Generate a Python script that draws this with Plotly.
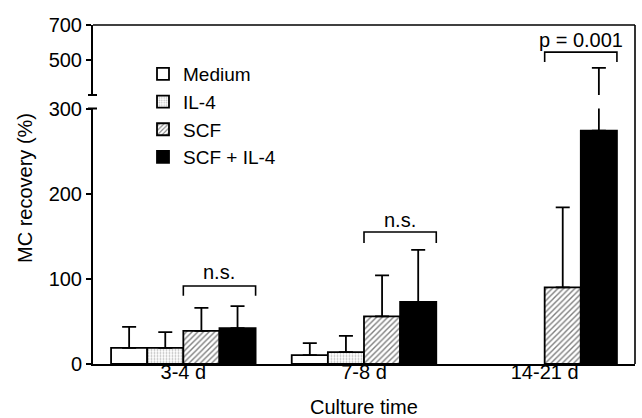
import plotly.graph_objects as go

# ---------------- data ----------------
categories = ["3-4 d", "7-8 d", "14-21 d"]
series_names = ["Medium", "IL-4", "SCF", "SCF + IL-4"]
medium = [19, 10.5, None]
medium_err = [24.5, 14, None]
il4 = [19, 14, None]
il4_err = [18.5, 19, None]
scf = [39, 56, 90]
scf_err = [27, 48, 94]
scf_il4 = [42, 73, 274]
scf_il4_err = [26, 61, 181]
lower_ticks = [0, 100, 200, 300]
upper_ticks = [500, 700]
sig_labels = ["n.s.", "n.s.", "p = 0.001"]

# ---------------- layout geometry (px) ----------------
W, H = 642, 418
L, R, T, B = 93, 7, 25, 54
PW, PH = W - L - R, H - T - B
def fy(py):  # pixel y -> paper fraction
    return (H - B - py) / PH
def fx(px):
    return (px - L) / PW

lower_top_px = 108.5
upper_bot_px = 95

FONT = "Liberation Sans, Arial, sans-serif"
FS = 20

series = [medium, il4, scf, scf_il4]
errors = [medium_err, il4_err, scf_err, scf_il4_err]
styles = [
    dict(color="white", pattern=None),
    dict(color="white", pattern=dict(shape=".", fgcolor="#777777", bgcolor="white", size=3, solidity=0.3, fillmode="overlay")),
    dict(color="white", pattern=dict(shape="/", fgcolor="black", bgcolor="white", size=4, solidity=0.35, fillmode="overlay")),
    dict(color="black", pattern=None),
]

fig = go.Figure()
for yax, show in (("y", True), ("y2", False)):
    for name, vals, err, st in zip(series_names, series, errors, styles):
        marker = dict(color=st["color"], line=dict(color="black", width=1.8))
        if st["pattern"] is not None:
            marker["pattern"] = st["pattern"]
        fig.add_trace(go.Bar(
            x=categories, y=vals, name=name, yaxis=yax, showlegend=show,
            marker=marker,
            error_y=dict(type="data", symmetric=False, array=err,
                         arrayminus=[0] * len(err), color="black",
                         thickness=1.8, width=7),
        ))

# significance brackets (category index coords)
brackets = [
    (0, 0.4, 91.5, 80, 108, "y"),
    (1, 1.4, 155, 142, 169, "y"),
    (2, 2.4, 545, 488, 614, "y2"),
]
shapes = []
annotations = []
for (x0, x1, ytop, yend, ytext, yref), lab in zip(brackets, sig_labels):
    shapes.append(dict(type="path", xref="x", yref=yref,
                       path=f"M {x0},{yend} L {x0},{ytop} L {x1},{ytop} L {x1},{yend}",
                       line=dict(color="black", width=1.6)))
    annotations.append(dict(x=(x0 + x1) / 2, y=ytext, xref="x", yref=yref,
                            xanchor="center", yanchor="middle",
                            text=lab, showarrow=False,
                            font=dict(size=FS, color="black", family=FONT)))

# frame: top and right lines
shapes.append(dict(type="line", xref="paper", yref="paper", x0=0, x1=1, y0=1, y1=1,
                   line=dict(color="black", width=1.6)))
shapes.append(dict(type="line", xref="paper", yref="paper", x0=1, x1=1, y0=0, y1=1,
                   line=dict(color="black", width=1.6)))
# axis break caps
for py in (upper_bot_px, lower_top_px):
    shapes.append(dict(type="line", xref="paper", yref="paper",
                       x0=fx(L - 5), x1=fx(L + 4), y0=fy(py), y1=fy(py),
                       line=dict(color="black", width=2)))

annotations.append(dict(x=fx(25), y=fy(188), xref="paper", yref="paper",
                        xanchor="center", yanchor="middle",
                        text="MC recovery (%)", textangle=-90, showarrow=False,
                        font=dict(size=FS, color="black", family=FONT)))
annotations.append(dict(x=fx(364), y=fy(407), xref="paper", yref="paper",
                        xanchor="center", yanchor="middle",
                        text="Culture time", showarrow=False,
                        font=dict(size=FS, color="black", family=FONT)))

fig.update_layout(
    width=W, height=H,
    margin=dict(l=L, r=R, t=T, b=B),
    paper_bgcolor="white", plot_bgcolor="white",
    barmode="group", bargap=0.2, bargroupgap=0,
    font=dict(family=FONT, size=FS, color="black"),
    showlegend=True,
    legend=dict(x=fx(143), y=fy(55), xanchor="left", yanchor="top",
                bgcolor="rgba(0,0,0,0)", font=dict(size=19, family=FONT),
                traceorder="normal", itemwidth=30),
    xaxis=dict(range=[-0.5, 2.5], showline=True, linecolor="black", linewidth=2,
               ticks="", showgrid=False, zeroline=False, ticklabelstandoff=-11,
               tickfont=dict(size=FS, family=FONT)),
    yaxis=dict(domain=[0, fy(lower_top_px)], range=[0, 300], tickvals=lower_ticks,
               showline=True, linecolor="black", linewidth=2, ticks="outside",
               ticklen=5, tickwidth=1.6, tickcolor="black", showgrid=False,
               zeroline=False, tickfont=dict(size=FS, family=FONT)),
    yaxis2=dict(domain=[fy(upper_bot_px), 1], range=[300, 700], tickvals=upper_ticks,
                anchor="x", showline=True, linecolor="black", linewidth=2,
                ticks="outside", ticklen=5, tickwidth=1.6, tickcolor="black",
                showgrid=False, zeroline=False, tickfont=dict(size=FS, family=FONT)),
    shapes=shapes,
    annotations=annotations,
)

fig.write_html("out.html", config={"displayModeBar": False},
               post_script="document.body.style.margin='0';document.body.style.overflow='hidden';")
